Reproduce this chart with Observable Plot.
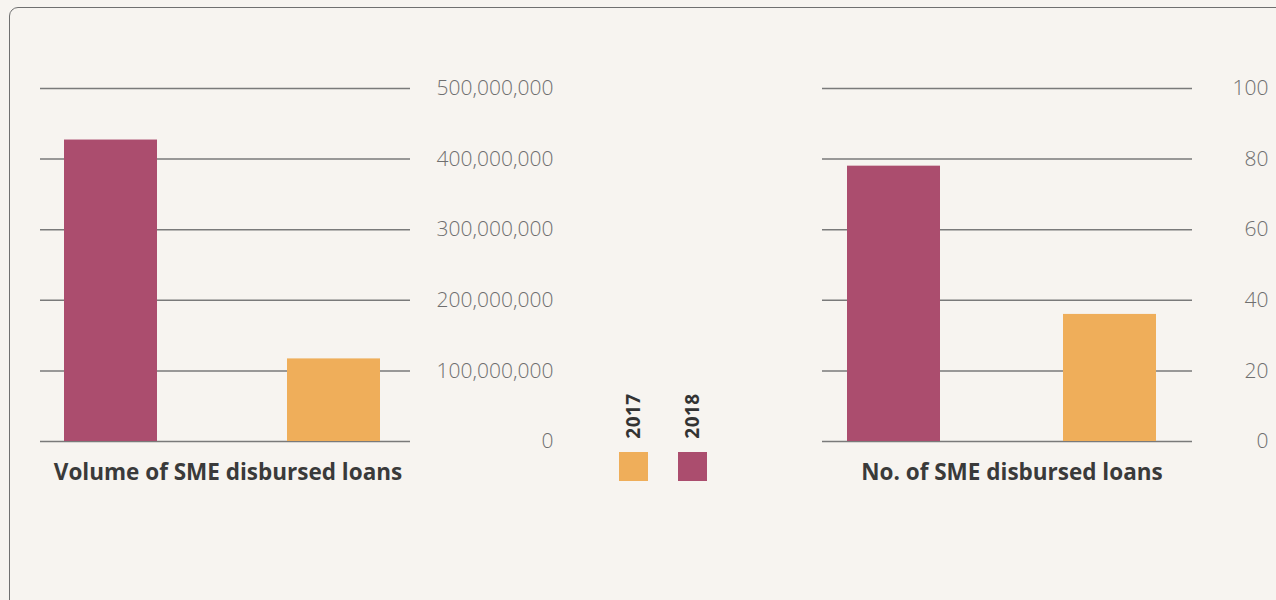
<!DOCTYPE html>
<html>
<head>
<meta charset="utf-8">
<script src="https://cdn.jsdelivr.net/npm/d3@7"></script>
<script src="https://cdn.jsdelivr.net/npm/@observablehq/plot@0.6"></script>
<style>
  html, body { margin: 0; padding: 0; background: #f7f4f0; }
  #wrap { position: relative; width: 1276px; height: 600px; overflow: hidden; background: #f7f4f0; font-family: "Open Sans", sans-serif; }
  #frame { position: absolute; left: 9px; top: 7px; width: 1400px; height: 800px; border: 1.5px solid #707070; border-radius: 9px; box-sizing: border-box; }
  .panel { position: absolute; top: 0; }
  .title { position: absolute; font-weight: 700; font-size: 22.5px; color: #3a3a3a; white-space: nowrap; transform: translateX(-50%); }
  .legtext { position: absolute; font-weight: 700; font-size: 19px; color: #333; transform-origin: center; white-space: nowrap; }
  .sw { position: absolute; width: 29px; height: 29px; }
</style>
</head>
<body>
<div id="wrap">
  <div id="frame"></div>
</div>
<script>
// ---- data ----
const years = ["2018", "2017"];
const colors = ["#ab4d6e", "#efae5a"];
const volumeValues = [427000000, 117000000];
const countValues = [78, 36];
const volumeTicks = [0, 100000000, 200000000, 300000000, 400000000, 500000000];
const countTicks = [0, 20, 40, 60, 80, 100];
const titles = ["Volume of SME disbursed loans", "No. of SME disbursed loans"];
const legendYears = ["2017", "2018"];
const legendColors = ["#efae5a", "#ab4d6e"];

const wrap = document.getElementById("wrap");

function panel(values, ticks, yMax, opts) {
  const data = years.map((y, i) => ({year: y, value: values[i]}));
  const fmt = d3.format(",");
  const chart = Plot.plot({
    width: opts.width,
    height: 470,
    marginLeft: 40,
    marginRight: opts.width - 410,
    marginTop: 88,
    marginBottom: 29,
    style: {background: "transparent", fontFamily: "Open Sans, sans-serif", overflow: "visible"},
    x: {domain: years, range: opts.xRange, paddingInner: opts.pi, paddingOuter: 0, axis: null},
    y: {domain: [0, yMax], range: [441, 88]},
    color: {domain: years, range: colors},
    marks: [
      Plot.gridY(ticks, {stroke: "#7a7a7a", strokeOpacity: 1, strokeWidth: 1.5}),
      Plot.barY(data, {x: "year", y: "value", fill: "year"}),
      Plot.axisY(ticks, {anchor: "right", tickSize: 0, tickPadding: 3, dx: opts.dx, textAnchor: "end",
        tickFormat: fmt, fontSize: 21, fill: "#6f6f6f", fontWeight: 300, label: null})
    ]
  });
  const d = document.createElement("div");
  d.className = "panel";
  d.style.left = opts.left + "px";
  d.appendChild(chart);
  wrap.appendChild(d);
}

panel(volumeValues, volumeTicks, 500000000, {left: 0, width: 570, xRange: [64, 380], pi: 0.583, dx: 140});
panel(countValues, countTicks, 100, {left: 782, width: 494, xRange: [64, 374], pi: 0.571, dx: 73});

// titles
[[228, titles[0]], [1012, titles[1]]].forEach(([cx, t]) => {
  const el = document.createElement("div");
  el.className = "title";
  el.style.left = cx + "px";
  el.style.top = "456px";
  el.textContent = t;
  wrap.appendChild(el);
});

// legend
[[633, 619], [692, 678]].forEach(([cx, sx], i) => {
  const t = document.createElement("div");
  t.className = "legtext";
  t.textContent = legendYears[i];
  t.style.left = (cx - 25) + "px";
  t.style.top = (416 - 13) + "px";
  t.style.width = "50px";
  t.style.textAlign = "center";
  t.style.lineHeight = "26px";
  t.style.letterSpacing = "0.5px";
  t.style.transform = "rotate(-90deg)";
  wrap.appendChild(t);
  const s = document.createElement("div");
  s.className = "sw";
  s.style.left = sx + "px";
  s.style.top = "452px";
  s.style.background = legendColors[i];
  wrap.appendChild(s);
});
</script>
</body>
</html>
